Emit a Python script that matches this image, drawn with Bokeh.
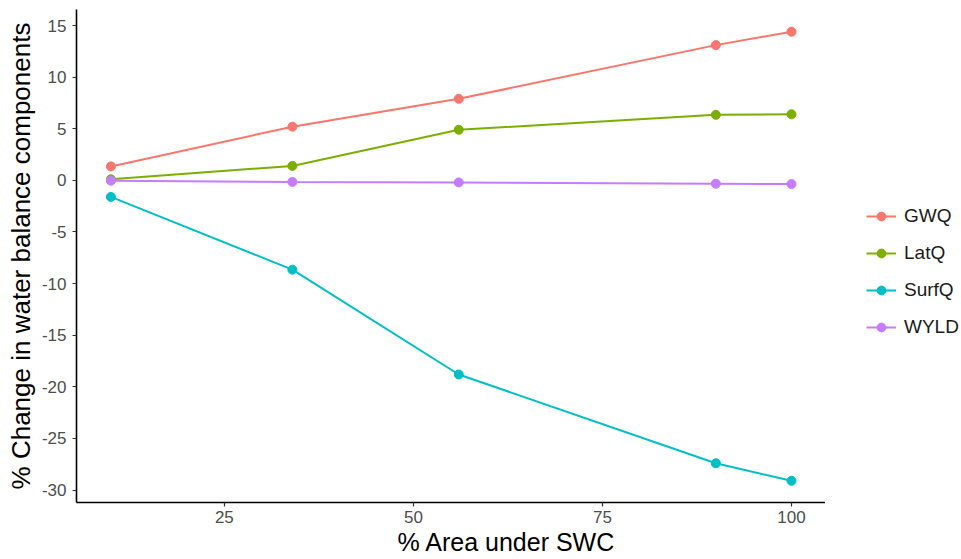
from bokeh.plotting import figure
from bokeh.layouts import row
from bokeh.models import Range1d, FixedTicker, Legend, LegendItem, PrintfTickFormatter, Title
from bokeh.embed import file_html
from bokeh.resources import INLINE

area = [10, 34, 56, 90, 100]
series_names = ["GWQ", "LatQ", "SurfQ", "WYLD"]
gwq = [1.35, 5.2, 7.9, 13.1, 14.4]
latq = [0.1, 1.4, 4.9, 6.35, 6.4]
surfq = [-1.6, -8.65, -18.8, -27.4, -29.1]
wyld = [-0.03, -0.15, -0.2, -0.32, -0.36]
colors = ["#F8766D", "#7CAE00", "#00BFC4", "#C77CFF"]
x_ticks = [25, 50, 75, 100]
y_ticks = [-30, -25, -20, -15, -10, -5, 0, 5, 10, 15]

FONT = "Liberation Sans"

p = figure(width=825, height=559, output_backend="svg", toolbar_location=None,
           x_range=Range1d(5.45, 104.5), y_range=Range1d(-31.2, 16.55),
           min_border_left=76, min_border_right=0, min_border_top=9, min_border_bottom=57)
p.outline_line_color = None
p.xgrid.visible = False
p.ygrid.visible = False
p.background_fill_color = "white"

for ax in (p.xaxis[0], p.yaxis[0]):
    ax.axis_line_color = "black"
    ax.axis_line_width = 1.6
    ax.major_tick_line_color = "#333333"
    ax.major_tick_line_width = 1.2
    ax.major_tick_out = 4
    ax.major_tick_in = 0
    ax.minor_tick_line_color = None
    ax.major_label_text_color = "#4D4D4D"
    ax.major_label_text_font = FONT
    ax.major_label_text_font_size = "17px"
    ax.axis_label_text_font = FONT
    ax.axis_label_text_font_size = "26px"
    ax.axis_label_text_font_style = "normal"
    ax.axis_label_text_color = "black"
    ax.formatter = PrintfTickFormatter(format="%d")

p.xaxis[0].ticker = FixedTicker(ticks=x_ticks)
p.yaxis[0].ticker = FixedTicker(ticks=y_ticks)
p.yaxis[0].axis_label = "% Change in water balance components"
p.xaxis[0].major_label_standoff = 4
p.yaxis[0].major_label_standoff = 6
p.yaxis[0].axis_label_standoff = 3

xtitle = Title(text="% Area under SWC", align="left", offset=321,
               text_font=FONT, text_font_size="25px", text_font_style="normal",
               text_color="black", standoff=0)
p.add_layout(xtitle, "below")

# legend panel as a separate small figure
lf = figure(width=136, height=559, output_backend="svg", toolbar_location=None,
            x_axis_type=None, y_axis_type=None,
            x_range=Range1d(0, 1), y_range=Range1d(0, 1),
            min_border_left=0, min_border_right=0, min_border_top=0, min_border_bottom=0)
lf.outline_line_color = None
lf.xgrid.visible = False
lf.ygrid.visible = False

items = []
for name, vals, c in zip(series_names, [gwq, latq, surfq, wyld], colors):
    p.line(area, vals, line_color=c, line_width=2)
    p.scatter(area, vals, size=9, fill_color=c, line_color=c)
    l = lf.line(area, vals, line_color=c, line_width=2)
    s = lf.scatter(area, vals, size=9, fill_color=c, line_color=c)
    items.append(LegendItem(label=name, renderers=[l, s]))

legend = Legend(items=items, location=(41, 164))
legend.border_line_color = None
legend.background_fill_alpha = 0
legend.label_text_font = FONT
legend.label_text_font_size = "19px"
legend.label_text_color = "#1a1a1a"
legend.glyph_width = 30
legend.glyph_height = 22
legend.spacing = 15
legend.label_standoff = 8
legend.padding = 4
legend.margin = 0
lf.add_layout(legend)

layout = row(p, lf, spacing=0)
open("out.html", "w").write(file_html(layout, INLINE))
